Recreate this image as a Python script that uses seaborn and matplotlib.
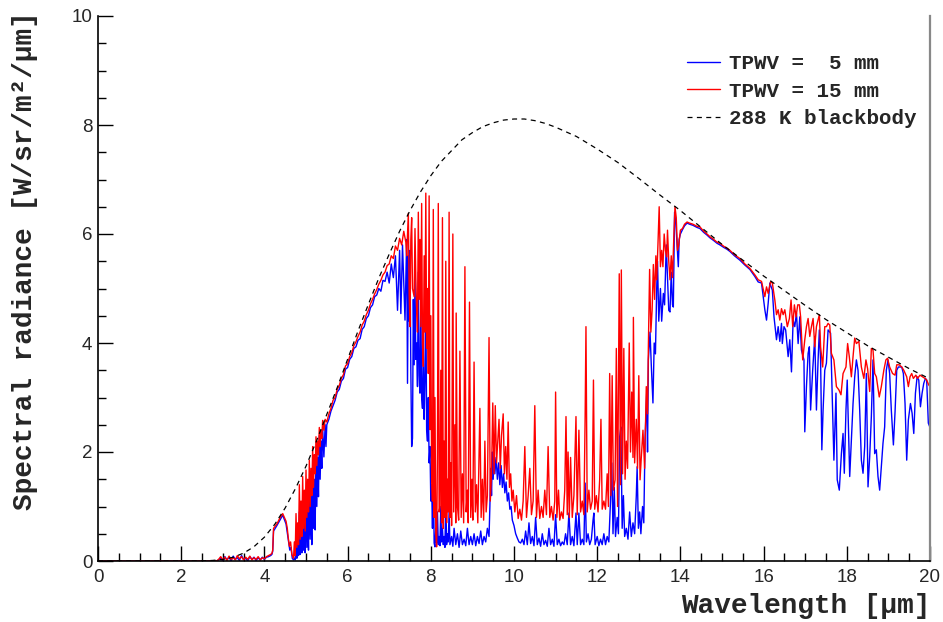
import numpy as np
import pandas as pd
import matplotlib
matplotlib.use("Agg")
import matplotlib.pyplot as plt
import seaborn as sns
from matplotlib.ticker import MultipleLocator

# ---------------- data ----------------
# (wavelength [um], spectral radiance [W/sr/m2/um])
pts_5mm = [
    (0.0, 0.0), (2.85, 0.0), (2.9, 0.02), (2.95, 0.06), (3.0, 0.0), (3.05, 0.08), (3.1, 0.02),
    (3.15, 0.07), (3.2, 0.0), (3.25, 0.09), (3.3, 0.03), (3.35, 0.06), (3.4, 0.01), (3.45, 0.1),
    (3.5, 0.03), (3.55, 0.05), (3.6, 0.0), (3.65, 0.08), (3.7, 0.03), (3.75, 0.07), (3.8, 0.01),
    (3.85, 0.06), (3.9, 0.02), (3.95, 0.07), (4.0, 0.03), (4.05, 0.07), (4.1, 0.08), (4.15, 0.1),
    (4.18, 0.12),
    (4.2, 0.18), (4.22, 0.55), (4.3, 0.65), (4.38, 0.76), (4.44, 0.84), (4.48, 0.76), (4.52, 0.68),
    (4.55, 0.52), (4.58, 0.35), (4.61, 0.2), (4.64, 0.25), (4.67, 0.05), (4.7, 0.02),
    (4.72, 0.05), (4.74, 0.02), (4.76, 0.5), (4.78, 0.05), (4.8, 0.35), (4.82, 0.1), (4.84, 0.9),
    (4.86, 0.12), (4.88, 0.6), (4.9, 0.15), (4.92, 1.1), (4.94, 0.2), (4.96, 0.8), (4.98, 0.15),
    (5.0, 1.2), (5.02, 0.25), (5.04, 1.0), (5.06, 0.2), (5.08, 1.4), (5.1, 0.4), (5.12, 1.2),
    (5.14, 0.3), (5.16, 1.7), (5.18, 0.6), (5.2, 1.5), (5.22, 0.57), (5.24, 2.0), (5.26, 1.0),
    (5.28, 1.9), (5.3, 1.18), (5.32, 2.3), (5.34, 1.5), (5.36, 2.2), (5.38, 1.7), (5.4, 2.45),
    (5.43, 1.91), (5.46, 2.5), (5.48, 2.1), (5.5, 2.5),
    (5.55, 2.6), (5.6, 2.75), (5.65, 2.85), (5.7, 2.95), (5.75, 3.1), (5.8, 3.15), (5.85, 3.3),
    (5.9, 3.35), (5.95, 3.52), (6.0, 3.55), (6.05, 3.7), (6.1, 3.75), (6.15, 3.9), (6.2, 3.93),
    (6.25, 4.05), (6.3, 4.08), (6.35, 4.25), (6.4, 4.3), (6.45, 4.45), (6.5, 4.5), (6.55, 4.65),
    (6.6, 4.7), (6.65, 4.85), (6.7, 4.88), (6.75, 5.0), (6.8, 4.95), (6.85, 5.15), (6.9, 5.13),
    (6.95, 5.3), (7.0, 5.1), (7.05, 5.45), (7.1, 5.2), (7.15, 5.6), (7.2, 4.6), (7.25, 5.7),
    (7.28, 4.54), (7.32, 5.8), (7.38, 4.42), (7.42, 5.9),
    (7.44, 3.26), (7.46, 5.6), (7.48, 4.4), (7.5, 5.7), (7.52, 3.5), (7.54, 2.1), (7.56, 2.25),
    (7.58, 4.8), (7.6, 3.6), (7.62, 5.2), (7.64, 3.7), (7.66, 4.0), (7.68, 3.2), (7.7, 5.3),
    (7.72, 3.4), (7.74, 3.08), (7.76, 4.9), (7.78, 3.0), (7.8, 2.8), (7.82, 3.9), (7.84, 2.6),
    (7.86, 3.3), (7.88, 5.0), (7.9, 2.4), (7.92, 2.2), (7.94, 3.0), (7.96, 1.8), (7.98, 2.1),
    (8.0, 1.1), (8.02, 1.4), (8.04, 0.6), (8.06, 1.8), (8.08, 0.33), (8.1, 0.26), (8.12, 0.6),
    (8.14, 0.33), (8.16, 0.9), (8.18, 0.3), (8.2, 0.45), (8.22, 0.28), (8.24, 1.0), (8.26, 0.35),
    (8.28, 0.6), (8.3, 0.3), (8.32, 0.45), (8.34, 0.25), (8.36, 1.2), (8.38, 0.3), (8.4, 0.5),
    (8.42, 0.35), (8.44, 0.9), (8.46, 0.3), (8.5, 0.45), (8.53, 0.27), (8.56, 0.6), (8.6, 0.3),
    (8.64, 0.5), (8.68, 0.25), (8.72, 0.55), (8.76, 0.3), (8.8, 0.4), (8.84, 0.28), (8.88, 0.6),
    (8.92, 0.3), (8.96, 0.45), (9.0, 0.3), (9.04, 0.5), (9.08, 0.28), (9.12, 0.45), (9.16, 0.32),
    (9.2, 0.55), (9.24, 0.3), (9.28, 0.45), (9.32, 0.35), (9.36, 0.6), (9.4, 0.45), (9.42, 1.0),
    (9.44, 1.7), (9.46, 1.2), (9.48, 2.0), (9.5, 1.5), (9.52, 2.1), (9.54, 1.6), (9.57, 1.9),
    (9.6, 1.5), (9.63, 1.8), (9.66, 1.4), (9.69, 1.75), (9.72, 1.35), (9.75, 1.6), (9.78, 1.25),
    (9.81, 1.45), (9.84, 1.1), (9.87, 1.25), (9.9, 0.95), (9.93, 1.0), (9.96, 0.75),
    (10.0, 0.65), (10.04, 0.5), (10.08, 0.42), (10.12, 0.35), (10.16, 0.33),
    (10.2, 0.4), (10.24, 0.3), (10.28, 0.55), (10.32, 0.3), (10.36, 0.7), (10.4, 0.32),
    (10.44, 0.45), (10.48, 0.28), (10.52, 0.8), (10.56, 0.3), (10.6, 0.42), (10.64, 0.27),
    (10.68, 0.5), (10.72, 0.3), (10.76, 0.38), (10.8, 0.27), (10.84, 0.6), (10.88, 0.3),
    (10.92, 0.4), (10.96, 0.27), (11.0, 0.85), (11.04, 0.3), (11.08, 0.4), (11.12, 0.28),
    (11.16, 0.35), (11.2, 0.3), (11.24, 0.5), (11.28, 0.3), (11.32, 0.88), (11.36, 0.3),
    (11.4, 0.45), (11.44, 0.28), (11.49, 0.88), (11.52, 0.3), (11.56, 0.88), (11.6, 0.3),
    (11.64, 0.4), (11.68, 0.3), (11.71, 1.43), (11.74, 0.35), (11.78, 0.5), (11.82, 0.3),
    (11.86, 0.4), (11.9, 0.75), (11.92, 0.88), (11.95, 0.3), (12.0, 0.45), (12.04, 0.28),
    (12.08, 0.4), (12.12, 0.3), (12.16, 0.5), (12.2, 0.3), (12.24, 0.45), (12.28, 0.35),
    (12.32, 1.1), (12.35, 1.8), (12.38, 0.5), (12.41, 1.35), (12.44, 0.45), (12.48, 0.8),
    (12.51, 0.5), (12.54, 2.28), (12.57, 2.46), (12.6, 0.6), (12.63, 1.2), (12.66, 0.45),
    (12.7, 0.6), (12.74, 0.4), (12.78, 0.9), (12.82, 0.45), (12.86, 0.7), (12.9, 0.5),
    (12.94, 1.2), (12.96, 1.73), (12.99, 0.6), (13.02, 0.9), (13.05, 0.5), (13.09, 1.0),
    (13.12, 0.7), (13.15, 2.22), (13.19, 3.08), (13.21, 2.0), (13.23, 3.69), (13.27, 4.2),
    (13.3, 3.6), (13.34, 2.9), (13.37, 4.0), (13.4, 3.8), (13.43, 5.0), (13.45, 5.5),
    (13.48, 4.4), (13.52, 5.0), (13.55, 4.4), (13.59, 4.91), (13.62, 4.7), (13.66, 5.8),
    (13.69, 5.2), (13.72, 4.6), (13.75, 4.57), (13.78, 5.3), (13.81, 4.7), (13.83, 4.66),
    (13.86, 6.4), (13.89, 6.2), (13.92, 5.8), (13.95, 5.4), (13.97, 5.9), (14.0, 6.0),
    (14.05, 6.08), (14.1, 6.15), (14.16, 6.2), (14.22, 6.18), (14.3, 6.16), (14.4, 6.12),
    (14.47, 6.1), (14.56, 6.03), (14.64, 5.98), (14.71, 5.93), (14.8, 5.88), (14.88, 5.83),
    (14.95, 5.8), (15.05, 5.75), (15.12, 5.72), (15.19, 5.68), (15.3, 5.6), (15.43, 5.52),
    (15.55, 5.43), (15.67, 5.35), (15.79, 5.22), (15.87, 5.12), (15.95, 5.1),
    (16.03, 4.61), (16.07, 4.42), (16.11, 4.73), (16.15, 5.10), (16.21, 4.97), (16.25, 4.48),
    (16.31, 4.06), (16.35, 4.30), (16.39, 4.03), (16.43, 4.36), (16.45, 3.99), (16.49, 4.30),
    (16.53, 4.24), (16.59, 3.75), (16.63, 4.06), (16.67, 3.47), (16.71, 4.42), (16.75, 4.30),
    (16.79, 4.55), (16.83, 3.99), (16.87, 4.48), (16.91, 3.87), (16.97, 3.69), (16.99, 2.37),
    (17.03, 3.20), (17.07, 3.81), (17.1, 3.93), (17.13, 2.77), (17.18, 3.50), (17.23, 4.12),
    (17.27, 2.77), (17.31, 3.69), (17.34, 4.24), (17.37, 3.69), (17.4, 2.04), (17.43, 2.77),
    (17.47, 3.50), (17.51, 3.63), (17.55, 4.24), (17.61, 4.18), (17.66, 2.77), (17.69, 1.85),
    (17.74, 3.08), (17.77, 1.49), (17.82, 1.30), (17.87, 1.97), (17.91, 2.34), (17.94, 1.61),
    (17.98, 2.77), (18.01, 3.32), (18.04, 2.46), (18.07, 1.55), (18.11, 2.22), (18.15, 2.89),
    (18.19, 3.38), (18.23, 3.69), (18.27, 3.50), (18.31, 2.77), (18.35, 1.85), (18.39, 1.61),
    (18.43, 2.10), (18.47, 3.44), (18.51, 1.36), (18.55, 1.91), (18.59, 2.65), (18.63, 3.69),
    (18.67, 1.97), (18.71, 2.04), (18.75, 1.55), (18.79, 1.30), (18.83, 1.73), (18.87, 2.16),
    (18.91, 2.46), (18.95, 3.50), (18.99, 3.69), (19.03, 3.44), (19.07, 2.77), (19.12, 2.13),
    (19.16, 2.74), (19.2, 3.50), (19.24, 3.56), (19.28, 3.56), (19.32, 3.56), (19.36, 3.44),
    (19.4, 2.89), (19.44, 1.85), (19.48, 2.59), (19.53, 2.89), (19.57, 2.71), (19.61, 2.34),
    (19.65, 3.08), (19.69, 3.38), (19.73, 3.32), (19.77, 2.83), (19.81, 3.08), (19.85, 3.26),
    (19.89, 3.35), (19.92, 3.32), (19.96, 2.53), (20.0, 2.45),
]

pts_15mm = [
    (0.0, 0.0), (2.85, 0.0), (2.9, 0.03), (2.95, 0.08), (3.0, 0.02), (3.05, 0.07), (3.1, 0.01),
    (3.15, 0.09), (3.2, 0.03), (3.25, 0.06), (3.3, 0.02), (3.35, 0.1), (3.4, 0.04), (3.45, 0.08),
    (3.5, 0.02), (3.55, 0.07), (3.6, 0.03), (3.65, 0.09), (3.7, 0.02), (3.75, 0.06), (3.8, 0.03),
    (3.85, 0.08), (3.9, 0.02), (3.95, 0.06), (4.0, 0.04), (4.05, 0.08), (4.1, 0.1), (4.15, 0.12),
    (4.18, 0.14),
    (4.2, 0.2), (4.22, 0.6), (4.3, 0.68), (4.38, 0.8), (4.44, 0.87), (4.48, 0.8), (4.52, 0.73),
    (4.55, 0.6), (4.57, 0.45), (4.6, 0.27), (4.63, 0.35), (4.66, 0.12), (4.7, 0.05),
    (4.72, 0.35), (4.74, 0.1), (4.76, 0.87), (4.78, 0.25), (4.8, 0.7), (4.82, 0.3), (4.84, 1.4),
    (4.86, 0.4), (4.88, 1.1), (4.9, 0.45), (4.92, 1.55), (4.94, 0.6), (4.96, 1.3), (4.98, 0.55),
    (5.0, 1.67), (5.02, 0.8), (5.04, 1.5), (5.06, 0.9), (5.08, 1.85), (5.1, 1.0), (5.12, 1.7),
    (5.14, 1.2), (5.16, 2.1), (5.18, 1.35), (5.2, 1.95), (5.22, 1.6), (5.24, 2.28), (5.26, 1.75),
    (5.28, 2.2), (5.3, 1.95), (5.32, 2.45), (5.34, 2.1), (5.36, 2.4), (5.38, 2.25), (5.4, 2.58),
    (5.43, 2.4), (5.46, 2.6), (5.5, 2.55),
    (5.55, 2.7), (5.6, 2.8), (5.65, 2.95), (5.7, 3.0), (5.75, 3.15), (5.8, 3.22), (5.85, 3.35),
    (5.9, 3.42), (5.95, 3.58), (6.0, 3.62), (6.05, 3.75), (6.1, 3.82), (6.15, 3.95), (6.2, 4.02),
    (6.25, 4.12), (6.3, 4.2), (6.35, 4.33), (6.4, 4.4), (6.45, 4.52), (6.5, 4.6), (6.55, 4.72),
    (6.6, 4.8), (6.65, 4.9), (6.7, 4.98), (6.75, 5.08), (6.8, 5.15), (6.85, 5.25), (6.9, 5.3),
    (6.95, 5.42), (7.0, 5.45), (7.05, 5.6), (7.1, 5.55), (7.15, 5.78), (7.2, 5.7), (7.25, 5.92),
    (7.3, 5.8), (7.35, 6.05), (7.4, 5.85),
    (7.42, 5.6), (7.46, 6.38), (7.48, 4.9), (7.5, 4.3), (7.52, 5.9), (7.54, 6.3), (7.56, 5.0),
    (7.6, 4.85), (7.62, 6.1), (7.64, 5.2), (7.66, 4.6), (7.68, 4.2), (7.7, 6.4), (7.72, 4.8),
    (7.74, 5.9), (7.76, 4.3), (7.78, 6.56), (7.8, 4.0), (7.82, 3.57), (7.84, 5.6), (7.86, 4.2),
    (7.88, 6.75), (7.9, 3.9), (7.92, 5.0), (7.94, 3.44), (7.96, 6.7), (7.98, 2.41), (8.0, 4.5),
    (8.02, 1.6), (8.04, 1.1), (8.06, 6.45), (8.08, 0.8), (8.1, 3.0), (8.12, 0.5), (8.14, 0.26),
    (8.16, 2.0), (8.18, 6.56), (8.2, 0.9), (8.22, 1.0), (8.24, 3.5), (8.26, 0.7), (8.28, 6.3),
    (8.3, 0.6), (8.32, 2.2), (8.34, 0.8), (8.36, 5.5), (8.38, 0.7), (8.4, 1.5), (8.42, 0.9),
    (8.44, 6.4), (8.46, 0.8), (8.48, 1.8), (8.5, 0.65), (8.53, 6.0), (8.55, 0.9), (8.58, 2.5),
    (8.6, 0.7), (8.61, 4.55), (8.64, 1.0), (8.67, 0.75), (8.7, 3.85), (8.73, 0.8), (8.76, 1.6),
    (8.79, 0.7), (8.82, 5.4), (8.85, 0.9), (8.88, 1.3), (8.9, 0.7), (8.93, 4.75), (8.96, 0.8),
    (8.99, 1.5), (9.01, 0.75), (9.04, 3.65), (9.07, 0.9), (9.1, 1.4), (9.13, 0.7), (9.18, 2.8),
    (9.21, 0.8), (9.24, 1.5), (9.27, 0.75), (9.3, 2.2), (9.33, 0.9), (9.36, 1.2), (9.4, 4.1),
    (9.43, 1.1), (9.46, 1.6), (9.49, 2.9), (9.52, 1.6), (9.55, 2.85), (9.58, 1.8), (9.61, 2.2),
    (9.64, 2.6), (9.67, 1.7), (9.7, 2.3), (9.74, 2.7), (9.77, 1.6), (9.8, 2.1), (9.83, 1.5),
    (9.86, 2.55), (9.89, 1.35), (9.92, 1.6), (9.95, 1.1), (9.98, 1.3), (10.02, 0.9),
    (10.06, 1.2), (10.1, 0.78), (10.14, 0.95), (10.18, 0.75), (10.22, 1.1), (10.26, 2.1),
    (10.3, 0.8), (10.34, 1.2), (10.38, 1.7), (10.42, 0.85), (10.46, 1.1), (10.5, 2.85),
    (10.54, 0.8), (10.58, 1.3), (10.62, 0.78), (10.66, 1.0), (10.7, 0.8), (10.74, 1.3),
    (10.78, 0.85), (10.82, 2.1), (10.86, 0.8), (10.9, 1.0), (10.94, 0.75), (10.98, 1.1),
    (11.0, 3.1), (11.03, 0.8), (11.07, 1.3), (11.1, 0.75), (11.14, 0.9), (11.18, 0.78),
    (11.22, 1.3), (11.25, 2.65), (11.28, 0.85), (11.3, 2.0), (11.33, 0.8), (11.36, 1.9),
    (11.4, 0.8), (11.44, 1.2), (11.49, 2.65), (11.52, 0.85), (11.56, 2.4), (11.6, 0.9),
    (11.64, 1.1), (11.68, 0.85), (11.71, 2.65), (11.73, 4.3), (11.76, 0.9), (11.8, 1.3),
    (11.84, 0.95), (11.88, 1.1), (11.91, 3.32), (11.94, 0.95), (11.98, 1.2), (12.02, 0.9),
    (12.06, 1.5), (12.09, 2.6), (12.12, 0.95), (12.16, 1.1), (12.2, 0.95), (12.24, 1.6),
    (12.27, 1.0), (12.3, 3.44), (12.33, 1.2), (12.36, 3.4), (12.39, 1.3), (12.43, 1.49),
    (12.46, 3.9), (12.49, 1.0), (12.53, 5.27), (12.56, 1.4), (12.58, 5.34), (12.61, 1.6),
    (12.64, 3.9), (12.67, 1.5), (12.7, 2.2), (12.73, 1.7), (12.77, 4.0), (12.8, 2.0),
    (12.83, 3.1), (12.86, 1.9), (12.87, 4.47), (12.9, 1.8), (12.94, 2.6), (12.97, 1.7),
    (13.0, 3.4), (13.03, 1.49), (13.06, 1.9), (13.1, 2.4), (13.14, 1.7), (13.18, 3.2),
    (13.21, 2.7), (13.23, 3.93), (13.26, 5.35), (13.29, 4.2), (13.32, 4.6), (13.35, 5.44),
    (13.38, 4.8), (13.41, 5.6), (13.43, 5.16), (13.46, 5.8), (13.49, 6.5), (13.52, 5.4),
    (13.55, 5.7), (13.58, 5.4), (13.61, 6.0), (13.64, 5.7), (13.67, 5.58), (13.69, 6.07),
    (13.72, 5.5), (13.75, 5.16), (13.78, 5.6), (13.81, 5.2), (13.84, 5.9), (13.87, 6.5),
    (13.9, 6.3), (13.93, 5.7), (13.96, 5.8), (14.0, 6.07), (14.05, 6.1), (14.1, 6.18),
    (14.16, 6.22), (14.22, 6.2), (14.3, 6.18), (14.4, 6.14), (14.47, 6.13), (14.56, 6.05),
    (14.64, 6.0), (14.71, 5.95), (14.8, 5.9), (14.88, 5.85), (14.95, 5.83), (15.05, 5.77),
    (15.12, 5.74), (15.19, 5.7), (15.3, 5.62), (15.43, 5.55), (15.55, 5.45), (15.67, 5.37),
    (15.79, 5.25), (15.87, 5.16), (15.95, 5.13),
    (16.03, 4.85), (16.07, 5.03), (16.11, 4.91), (16.17, 5.13), (16.21, 5.10), (16.27, 4.79),
    (16.31, 4.52), (16.35, 4.61), (16.39, 4.42), (16.43, 4.63), (16.47, 4.52), (16.51, 4.61),
    (16.57, 4.30), (16.62, 4.45), (16.66, 4.79), (16.7, 4.30), (16.74, 4.70), (16.78, 4.48),
    (16.82, 4.70), (16.86, 4.70), (16.89, 4.48), (16.94, 3.69), (16.99, 4.06), (17.03, 4.30),
    (17.07, 4.45), (17.11, 4.12), (17.15, 4.30), (17.19, 4.45), (17.23, 3.93), (17.27, 4.30),
    (17.34, 4.52), (17.37, 3.93), (17.42, 3.56), (17.47, 4.30), (17.51, 4.30), (17.55, 4.36),
    (17.59, 4.33), (17.63, 3.81), (17.69, 3.69), (17.75, 3.20), (17.81, 3.14), (17.86, 3.05),
    (17.91, 3.44), (17.98, 3.56), (18.02, 3.99), (18.06, 3.75), (18.11, 3.38), (18.15, 3.75),
    (18.19, 4.09), (18.23, 3.99), (18.29, 4.03), (18.35, 3.56), (18.41, 3.35), (18.46, 3.69),
    (18.5, 3.53), (18.55, 3.11), (18.59, 3.90), (18.63, 3.87), (18.67, 3.44), (18.71, 3.38),
    (18.78, 3.01), (18.83, 3.20), (18.89, 3.50), (18.94, 3.69), (18.98, 3.72), (19.03, 3.56),
    (19.1, 3.44), (19.16, 3.41), (19.2, 3.60), (19.26, 3.60), (19.32, 3.56), (19.37, 3.50),
    (19.44, 3.38), (19.48, 3.20), (19.52, 3.38), (19.56, 3.44), (19.6, 3.35), (19.66, 3.41),
    (19.7, 3.35), (19.76, 3.41), (19.82, 3.38), (19.88, 3.35), (19.92, 3.32), (19.97, 3.23),
    (20.0, 3.2),
]

wl_bb = [0.0, 1.0, 2.0, 2.5, 2.75, 3.0, 3.25, 3.5, 3.75, 4.0, 4.25, 4.5, 4.75, 5.0, 5.25,
         5.5, 5.75, 6.0, 6.25, 6.5, 6.75, 7.0, 7.25, 7.5, 7.75, 8.0, 8.25, 8.5, 8.75, 9.0,
         9.25, 9.5, 9.75, 10.0, 10.25, 10.5, 10.75, 11.0, 11.5, 12.0, 12.5, 13.0, 13.5,
         14.0, 14.5, 15.0, 15.5, 16.0, 16.5, 17.0, 17.5, 18.0, 18.5, 19.0, 19.5, 20.0]
rad_bb = [0.0, 0.0, 0.0, 0.003, 0.01, 0.029, 0.069, 0.144, 0.263, 0.437, 0.674, 0.974,
          1.334, 1.74, 2.198, 2.69, 3.18, 3.70, 4.22, 4.71, 5.19, 5.63, 6.05, 6.43, 6.77,
          7.07, 7.33, 7.53, 7.73, 7.86, 7.97, 8.04, 8.09, 8.11, 8.11, 8.08, 8.03, 7.96,
          7.79, 7.56, 7.31, 7.02, 6.72, 6.43, 6.12, 5.81, 5.52, 5.23, 4.96, 4.69, 4.43,
          4.19, 3.95, 3.74, 3.53, 3.34]

series_labels = ["TPWV =  5 mm", "TPWV = 15 mm", "288 K blackbody"]
x_ticks = [0, 2, 4, 6, 8, 10, 12, 14, 16, 18, 20]
y_ticks = [0, 2, 4, 6, 8, 10]
x_label = "Wavelength [µm]"
y_label = "Spectral radiance [W/sr/m²/µm]"

# ---------------- figure ----------------
sns.set_theme(style="ticks")
plt.rcParams["font.family"] = ["Liberation Sans", "DejaVu Sans"]

fig = plt.figure(figsize=(9.43, 6.22), dpi=100)
ax = fig.add_axes([98 / 943, 61 / 622, 832 / 943, 545 / 622])

df5 = pd.DataFrame(pts_5mm, columns=["wl", "rad"])
df15 = pd.DataFrame(pts_15mm, columns=["wl", "rad"])
dfbb = pd.DataFrame({"wl": wl_bb, "rad": rad_bb})

sns.lineplot(data=df5, x="wl", y="rad", ax=ax, color="#0000ff", lw=1.0,
             estimator=None, sort=False, label=series_labels[0])
sns.lineplot(data=df15, x="wl", y="rad", ax=ax, color="#ff0000", lw=1.0,
             estimator=None, sort=False, label=series_labels[1])
sns.lineplot(data=dfbb, x="wl", y="rad", ax=ax, color="black", lw=0.9,
             estimator=None, sort=False, label=series_labels[2])
ax.lines[-1].set_linestyle((0, (4, 3.5)))

ax.set_xlim(0, 20)
ax.set_ylim(0, 10)
ax.set_xticks(x_ticks)
ax.set_yticks(y_ticks)
ax.xaxis.set_minor_locator(MultipleLocator(0.5))
ax.yaxis.set_minor_locator(MultipleLocator(0.5))
ax.tick_params(which="major", direction="in", length=11, width=1.0, color="black",
               labelsize=13.5, pad=6)
ax.tick_params(which="minor", direction="in", length=5.5, width=1.0, color="black")
ax.tick_params(axis="y", which="both", pad=4)

for s in ["left", "bottom"]:
    ax.spines[s].set_color("black")
    ax.spines[s].set_linewidth(1.2)
ax.spines["top"].set_visible(False)
ax.spines["right"].set_color("#888888")
ax.spines["right"].set_linewidth(1.6)

lab_font = dict(family=["Liberation Mono", "DejaVu Sans Mono"], weight="bold", size=20)
ax.set_xlabel(x_label, loc="right", fontdict=lab_font)
ax.set_ylabel(y_label, loc="top", fontdict=lab_font)
ax.xaxis.set_label_coords(1.0, -0.058)
ax.yaxis.set_label_coords(-0.072, 1.008)

leg = ax.legend(loc="upper left", bbox_to_anchor=(0.708, 0.9295), frameon=False,
                prop=dict(family=["Liberation Mono", "DejaVu Sans Mono"], weight="bold", size=15),
                handlelength=1.6, handletextpad=0.4, labelspacing=0.40,
                borderpad=0.0, borderaxespad=0.0)

fig.savefig("out.png", dpi=100)
